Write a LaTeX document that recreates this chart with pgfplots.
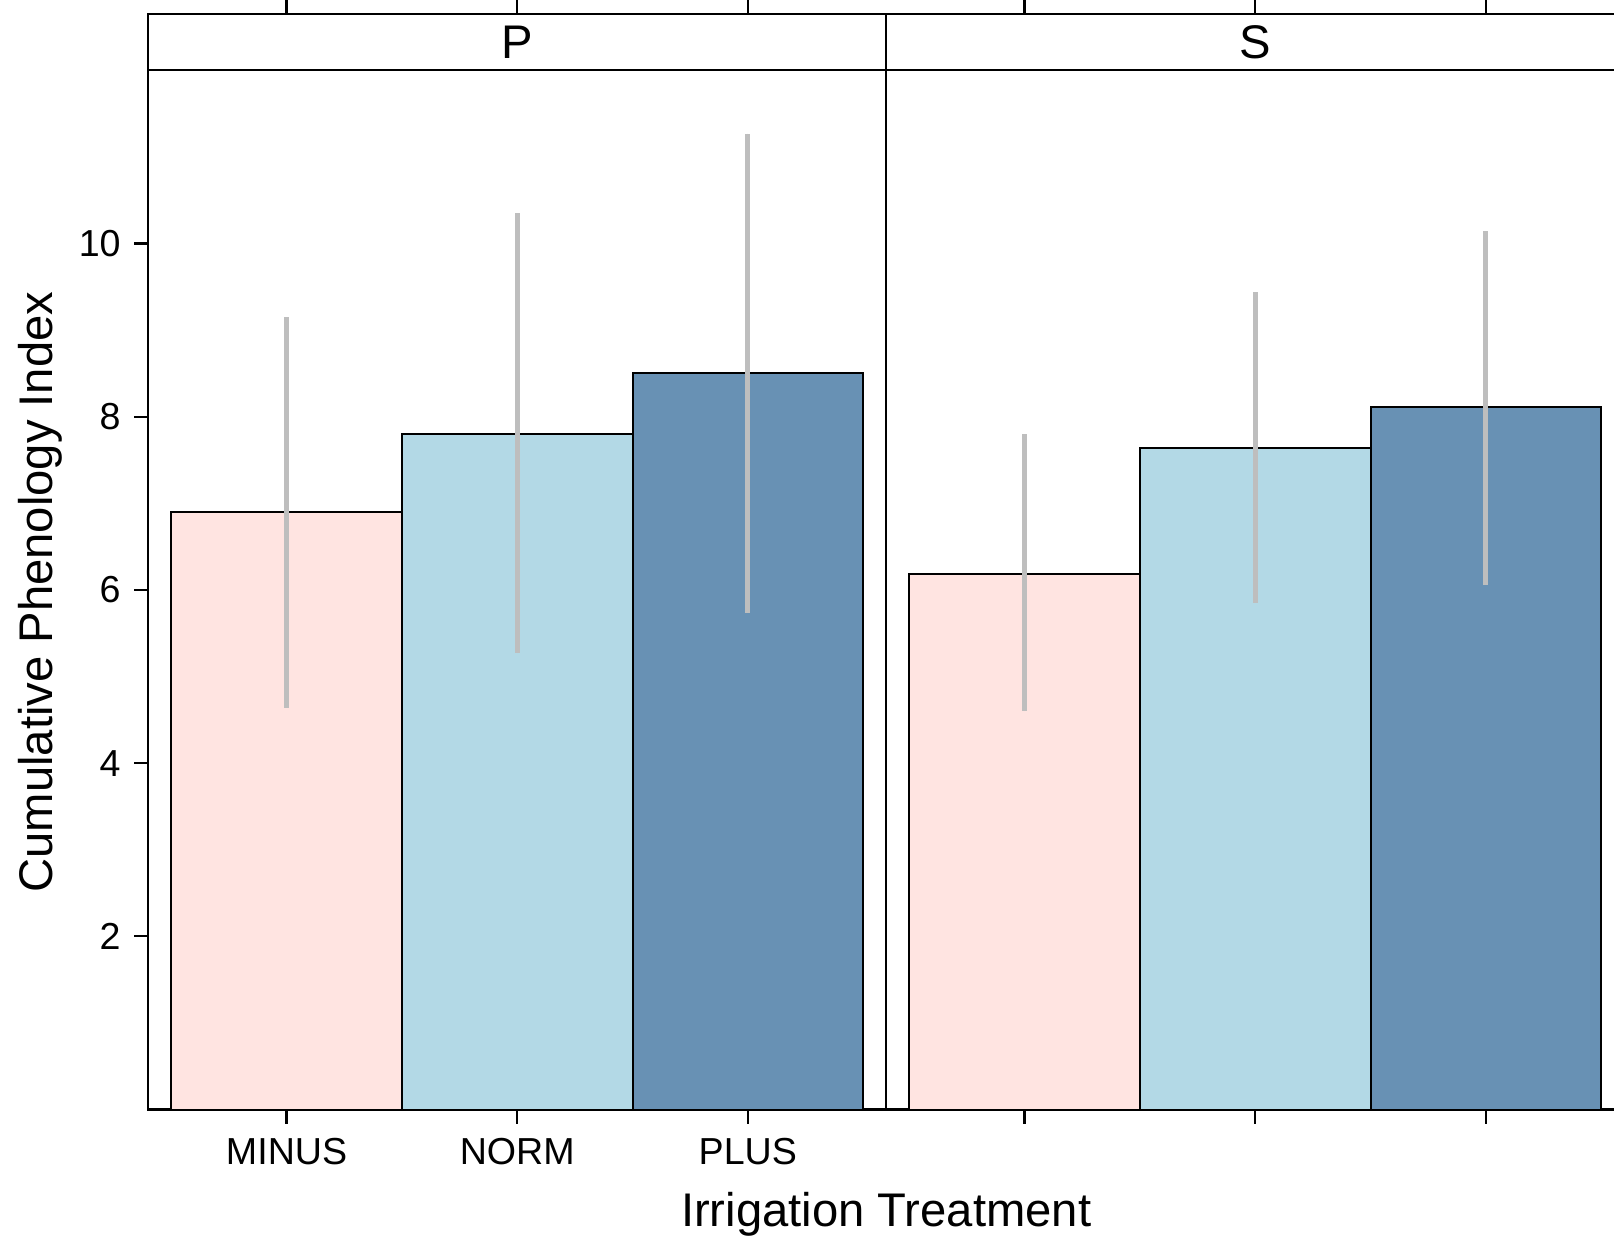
\documentclass[border=0pt]{standalone}
\usepackage{pgfplots}
\pgfplotsset{compat=1.18}
\usepackage{fontspec}
\setmainfont{Liberation Sans}
\definecolor{cminus}{RGB}{255,228,225}
\definecolor{cnorm}{RGB}{179,217,230}
\definecolor{cplus}{RGB}{104,145,180}
\definecolor{cerr}{RGB}{190,190,190}
\pgfplotsset{
  panel/.style={
    scale only axis, width=184.5pt, height=273.8pt,
    xmin=0.4, xmax=3.6, ymin=0, ymax=12.647,
    axis line style={line width=0.55pt},
    every tick/.style={line width=0.55pt, black},
    major tick length=3.5pt,
    tick align=outside,
    xtick={1,2,3},
    xtick pos=both,
    ytick pos=left,
    ytick={2,4,6,8,10},
    /pgf/number format/assume math mode=true,
    tick label style={font=\fontsize{9.4}{11}\selectfont},
    xticklabel style={anchor=base, inner sep=0pt, yshift=-10.3pt},
    yticklabel style={anchor=east, inner sep=0pt, xshift=-3.2pt},
    label style={font=\fontsize{11.8}{14}\selectfont},
  },
  bar/.style={ybar, bar width=1, draw=black, line width=0.5pt,
    error bars/y dir=both, error bars/y explicit, error bars/error mark=none,
    error bars/error bar style={cerr, line width=1.25pt}},
}
\begin{document}
\begin{tikzpicture}
\path[use as bounding box] (-37.05pt,-32.1pt) rectangle (366.45pt,277.4pt);
\clip (-37.05pt,-32.1pt) rectangle (366.45pt,277.4pt);
\begin{axis}[panel, name=left, at={(0,0)}, anchor=south west,
  xticklabels={MINUS,NORM,PLUS},
  ylabel={Cumulative Phenology Index},
  ylabel style={at={(axis description cs:-0.129,0.4726)}, anchor=base},
  xlabel={Irrigation Treatment},
  xlabel style={at={(axis description cs:1,0)}, anchor=base, yshift=-29.35pt},
]
\addplot[bar, fill=cminus] coordinates {(1,6.90) += (0,2.25) -= (0,2.26)};
\addplot[bar, fill=cnorm] coordinates {(2,7.80) += (0,2.55) -= (0,2.53)};
\addplot[bar, fill=cplus] coordinates {(3,8.51) += (0,2.76) -= (0,2.77)};
\draw[line width=0.55pt] (axis cs:0.4,12) -- (axis cs:3.6,12);
\node[font=\fontsize{11.8}{14}\selectfont] at (axis cs:2,12.3235) {P};
\end{axis}
\begin{axis}[panel, name=right, at={(left.south east)}, anchor=south west,
  xticklabels={}, ytick=\empty,
]
\addplot[bar, fill=cminus] coordinates {(1,6.19) += (0,1.61) -= (0,1.59)};
\addplot[bar, fill=cnorm] coordinates {(2,7.64) += (0,1.80) -= (0,1.79)};
\addplot[bar, fill=cplus] coordinates {(3,8.11) += (0,2.03) -= (0,2.05)};
\draw[line width=0.55pt] (axis cs:0.4,12) -- (axis cs:3.6,12);
\node[font=\fontsize{11.8}{14}\selectfont] at (axis cs:2,12.3235) {S};
\end{axis}
\end{tikzpicture}
\end{document}
